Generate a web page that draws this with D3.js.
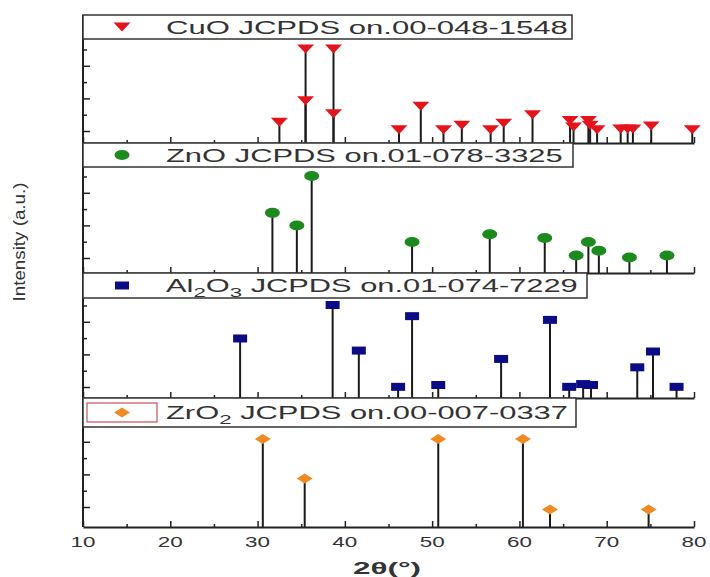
<!DOCTYPE html>
<html>
<head>
<meta charset="utf-8">
<script src="https://cdn.jsdelivr.net/npm/d3@7"></script>
<style>
  body { margin: 0; background: #fff; }
  text { font-family: "Liberation Sans", Arial, sans-serif; fill: #333; }
</style>
</head>
<body>
<svg id="chart" width="710" height="577"></svg>
<script>
// reference patterns: 2theta (deg) and relative intensity (%)
const cuoPos = [32.5, 35.5, 35.5, 38.7, 38.7, 46.2, 48.7, 51.3, 53.4, 56.7, 58.2, 61.5, 65.8, 66.2, 67.9, 68.1, 68.9, 71.6, 72.4, 73.0, 75.1, 79.8]
const cuoInt = [22, 100, 45, 100, 31, 14, 39, 14, 19, 14, 21, 30, 24, 17, 24, 19, 14, 15, 15, 15, 18, 14]

const znoPos = [31.7, 34.5, 36.2, 47.7, 56.6, 62.9, 66.5, 67.9, 69.1, 72.6, 76.9]
const znoInt = [62, 49, 100, 32, 40, 36, 18, 32, 23, 16, 18]

const al2o3Pos = [28.0, 38.6, 41.6, 46.1, 47.7, 50.7, 57.9, 63.5, 65.7, 67.3, 68.2, 73.5, 75.3, 78.0]
const al2o3Int = [64, 100, 51, 12, 88, 14, 42, 84, 12, 15, 14, 33, 50, 12]

const zro2Pos = [30.6, 35.4, 50.7, 60.4, 63.5, 74.8]
const zro2Int = [100, 55, 100, 100, 20, 20]

const phaseNames = ['CuO', 'ZnO', 'Al|2|O|3|', 'ZrO|2|']   // |n| = subscript
const phaseCodes = ['00-048-1548', '01-078-3325', '01-074-7229', '00-007-0337']
const phaseColors = ['#e3141b', '#1c8a1c', '#0b0b85', '#f08a22']
const phaseShapes = ['triangleDown', 'circle', 'square', 'diamond']

const xMajor = d3.range(10, 81, 10)
const xMinor = d3.range(15, 80, 10)

// layout (pixels)
const left = 83, right = 694
const legendTop = [15, 143, 273, 398]
const legendBottom = [39, 167, 298, 427]
const legendRight = [572, 573, 587, 576]
const textEnd = [568, 563, 578, 568]
const baseLine = [143, 273, 398, 527]
const fullLine = [49, 176, 305, 439]
const tickOffset = [12, 15, 11, 20]
const tickCount = [6, 6, 6, 5]
const tickStep = 16.3

const series = [
  { pos: cuoPos, int: cuoInt },
  { pos: znoPos, int: znoInt },
  { pos: al2o3Pos, int: al2o3Int },
  { pos: zro2Pos, int: zro2Int }
]

const svg = d3.select('#chart')
const x = d3.scaleLinear().domain([10, 80]).range([left, right])

// stretch text horizontally to a given width (the figure is stretched)
function fitText(sel, width, tx, ty, extra) {
  sel.each(function () {
    const w = this.getComputedTextLength()
    d3.select(this).attr('transform', `translate(${tx},${ty}) ${extra || ''} scale(${width / w},1)`)
  })
}

function shapePath(kind) {
  // shapes are wider than tall, like in the picture
  if (kind === 'triangleDown') return 'M-8.5,-4.5L8.5,-4.5L0,4.5Z'
  if (kind === 'diamond') return 'M-8,0L0,-5L8,0L0,5Z'
  if (kind === 'square') return 'M-7,-4H7V4H-7Z'
  return 'M-7.5,0A7.5,5 0 1,0 7.5,0A7.5,5 0 1,0 -7.5,0Z'
}

function addLabel(g, name, code) {
  const t = g.append('text').attr('font-size', 18).attr('text-anchor', 'start')
  const parts = name.split('|').filter(p => p !== '')
  let isSub = false
  name.split('|').forEach((part, k) => {
    if (!part) return
    const sub = k % 2 === 1
    const ts = t.append('tspan').text(part)
    if (sub) ts.attr('font-size', 13).attr('dy', 5)
    else if (isSub) ts.attr('dy', -5)
    isSub = sub
  })
  const tail = t.append('tspan').text(' JCPDS on.' + code)
  if (isSub) tail.attr('dy', -5)
  return t
}

series.forEach((s, i) => {
  const g = svg.append('g')
  const y = d3.scaleLinear().domain([0, 100]).range([baseLine[i], fullLine[i]])
  const data = s.pos.map((p, k) => ({ p: p, v: s.int[k] }))

  // left axis line
  g.append('line')
    .attr('x1', left).attr('x2', left)
    .attr('y1', legendTop[i]).attr('y2', baseLine[i])
    .attr('stroke', '#222').attr('stroke-width', 2)

  // left ticks, inward, alternating long / short
  const tv = d3.range(tickCount[i]).map(k => y.invert(baseLine[i] - tickOffset[i] - k * tickStep))
  const longT = tv.filter((d, k) => k % 2 === 0)
  const shortT = tv.filter((d, k) => k % 2 === 1)
  ;[[longT, 7], [shortT, 4]].forEach(([vals, len]) => {
    const a = g.append('g').attr('transform', `translate(${left},0)`)
      .call(d3.axisRight(y).tickValues(vals).tickSize(len).tickFormat(''))
    a.select('.domain').remove()
    a.selectAll('line').attr('stroke', '#222').attr('stroke-width', 1.5)
  })

  // stems
  g.selectAll('line.stem').data(data).join('line')
    .attr('class', 'stem')
    .attr('x1', d => x(d.p)).attr('x2', d => x(d.p))
    .attr('y1', baseLine[i]).attr('y2', d => y(d.v))
    .attr('stroke', '#1a1a1a').attr('stroke-width', 2)

  // bottom axis with inward ticks
  const ax = g.append('g').attr('transform', `translate(0,${baseLine[i]})`)
    .call(d3.axisBottom(x).tickValues(xMajor).tickSize(-6).tickSizeOuter(0).tickFormat(''))
  ax.select('.domain').attr('stroke', '#222').attr('stroke-width', 2)
  ax.selectAll('line').attr('stroke', '#222').attr('stroke-width', 1.5)
  const axm = g.append('g').attr('transform', `translate(0,${baseLine[i]})`)
    .call(d3.axisBottom(x).tickValues(xMinor).tickSize(-3).tickFormat(''))
  axm.select('.domain').remove()
  axm.selectAll('line').attr('stroke', '#222').attr('stroke-width', 1.5)

  // markers
  g.selectAll('path.mk').data(data).join('path')
    .attr('class', 'mk')
    .attr('d', shapePath(phaseShapes[i]))
    .attr('transform', d => `translate(${x(d.p)},${y(d.v)})`)
    .attr('fill', phaseColors[i])

  // legend box
  g.append('rect')
    .attr('x', left).attr('y', legendTop[i])
    .attr('width', legendRight[i] - left).attr('height', legendBottom[i] - legendTop[i])
    .attr('fill', '#fff').attr('stroke', '#333').attr('stroke-width', 1.5)
  const cy = (legendTop[i] + legendBottom[i]) / 2
  if (i === 3) {
    g.append('rect').attr('x', 87).attr('y', 403).attr('width', 70).attr('height', 19)
      .attr('fill', 'none').attr('stroke', '#c8505a').attr('stroke-width', 1.2)
  }
  g.append('path')
    .attr('d', shapePath(phaseShapes[i]))
    .attr('transform', `translate(122,${cy})`)
    .attr('fill', phaseColors[i])

  const lbl = addLabel(g, phaseNames[i], phaseCodes[i])
  fitText(lbl, textEnd[i] - 166, 166, cy + 6.5)
})

// tick labels under the last panel
svg.append('g').selectAll('text').data(xMajor).join('text')
  .attr('font-size', 15)
  .attr('text-anchor', 'middle')
  .text(d => d)
  .each(function (d) { fitText(d3.select(this), 25, x(d), 547) })

// axis titles
svg.append('text')
  .attr('font-size', 16).attr('font-weight', 'bold')
  .attr('text-anchor', 'middle')
  .attr('fill', '#111')
  .text('2θ(°)')
  .call(t => fitText(t, 68, 387, 574))

svg.append('text')
  .attr('font-size', 17)
  .attr('text-anchor', 'middle')
  .attr('fill', '#222')
  .text('Intensity (a.u.)')
  .call(t => fitText(t, 119, 25, 242, 'rotate(-90)'))
</script>
</body>
</html>
